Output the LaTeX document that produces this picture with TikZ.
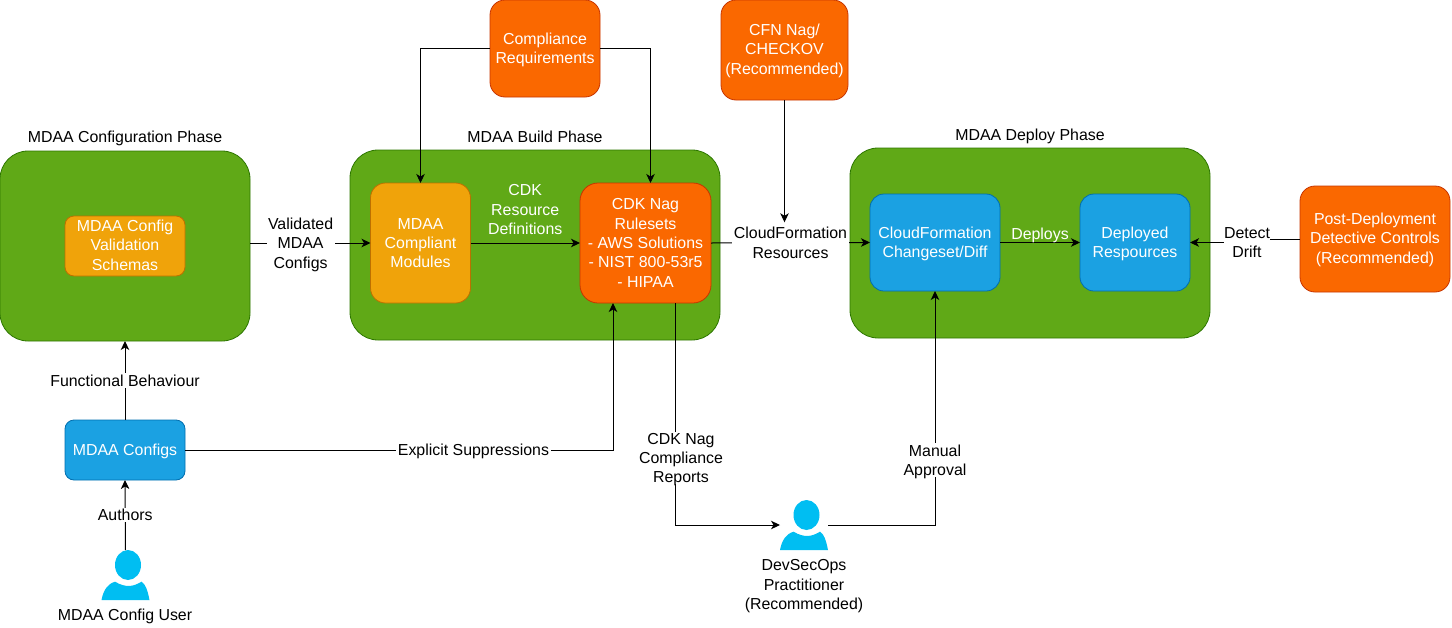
\documentclass[tikz,border=0pt]{standalone}
\usepackage{fontspec}
\usetikzlibrary{arrows.meta}
\setmainfont{Liberation Sans}
\definecolor{grnfill}{HTML}{60A917}
\definecolor{grnline}{HTML}{2D7600}
\definecolor{ambfill}{HTML}{F0A30A}
\definecolor{ambline}{HTML}{BD7000}
\definecolor{orgfill}{HTML}{FA6800}
\definecolor{orgline}{HTML}{C73500}
\definecolor{blufill}{HTML}{1BA1E2}
\definecolor{bluline}{HTML}{006EAF}
\definecolor{usrfill}{HTML}{00BEF2}
\begin{document}
\begin{tikzpicture}[x=1pt,y=-1pt,>={Stealth[length=9pt,width=8.5pt,inset=2.5pt]},font=\fontsize{15.9}{19.4}\selectfont,text depth=0pt,
        block/.style={draw,line width=.8pt,align=center,text=white,inner sep=0pt,outer sep=0pt},
        phase/.style={block,fill=grnfill,draw=grnline,rounded corners=28pt},
        amber/.style={block,fill=ambfill,draw=ambline,rounded corners=#1},
        orangebox/.style={block,fill=orgfill,draw=orgline,rounded corners=#1},
        bluebox/.style={block,fill=blufill,draw=bluline,rounded corners=#1},
        size/.style 2 args={minimum width=#1,minimum height=#2},
        title/.style={align=center,inner sep=0pt},
        link/.style={->,line width=1pt},
        tag/.style={fill=white,align=center,inner sep=1.5pt},
        person/.pic={
          \fill[usrfill] (2.5,-10) ellipse [x radius=13,y radius=15];
          \fill[usrfill] (-24,25) .. controls (-22,15) and (-18,9) .. (-10.5,6.7)
            .. controls (-5,10) and (0,11) .. (3,11) .. controls (8,11) and (12,9) .. (16,6.7)
            .. controls (20,9) and (22,15) .. (24,25) -- cycle;}]
        \useasboundingbox (0,0) rectangle (1452,627);
        \node[phase,size={250}{190}] (cfgphase) at (125,246) {};
        \node[phase,size={370}{190}] (bldphase) at (535,245) {};
        \node[phase,size={360}{190}] (dplphase) at (1030,243) {};
        \node[title] (cfgtitle) at (125,137) {MDAA Configuration Phase};
        \node[title] (bldtitle) at (535,137) {MDAA Build Phase};
        \node[title] (dpltitle) at (1030,135) {MDAA Deploy Phase};
        \node[amber=9pt,size={120}{60},text depth=2pt] (schemas) at (125,246) {MDAA Config\\Validation\\Schemas};
        \node[amber=15pt,size={100}{120}] (modules) at (420.5,243) {MDAA\\Compliant\\Modules};
        \node[orangebox=18pt,size={131}{120}] (nag) at (645.5,243) {CDK Nag\\Rulesets\\- AWS Solutions\\- NIST 800-53r5\\- HIPAA};
        \node[orangebox=15pt,size={110}{97}] (compliance) at (545,48.5) {Compliance\\Requirements};
        \node[orangebox=15pt,size={127}{100},text depth=2pt] (cfnnag) at (784.5,50) {CFN Nag/\\CHECKOV\\(Recommended)};
        \node[orangebox=15pt,size={150}{106},text depth=2pt] (detective) at (1375,239) {Post-Deployment\\Detective Controls\\(Recommended)};
        \node[bluebox=14pt,size={130}{97}] (changeset) at (935,242.5) {CloudFormation\\Changeset/Diff};
        \node[bluebox=14pt,size={110}{97}] (deployed) at (1135,242.5) {Deployed\\Respources};
        \node[bluebox=9pt,size={120}{60}] (configs) at (125,450) {MDAA Configs};
        \node[size={48}{50},inner sep=0pt,outer sep=0pt] (cfguser) at (125.5,575) {};
        \pic at (cfguser) {person};
        \node[title] (cfgusertext) at (125,615) {MDAA Config User};
        \node[size={48}{50},inner sep=0pt,outer sep=0pt] (devsec) at (804,525) {};
        \pic at (devsec) {person};
        \node[title] (devsectext) at (804,584.5) {DevSecOps\\Practitioner\\(Recommended)};
        \node[title] (drift) at (1247,242.5) {Detect\\Drift};
        \draw[link] (cfgphase.east |- modules.west) -- node[tag,pos=.42] (validated) {Validated\\MDAA\\Configs} (modules.west);
        \draw[link] (modules.east) -- node[title,text=white,above=8pt,pos=.5] (cdkdefs) {CDK\\Resource\\Definitions} (nag.west);
        \draw[link] (nag.east) -- node[tag] (cfnres) {CloudFormation\\Resources} (changeset.west);
        \draw[link] (changeset.east) -- node[title,text=white,above=3pt] (deploys) {Deploys} (deployed.west);
        \draw[line width=1pt] (detective.west) -- (drift.east |- detective.west);
        \draw[link] (drift.west) -- (deployed.east);
        \draw[link] (compliance.west) -| (modules.north);
        \draw[link] (compliance.east) -| ([xshift=5pt]nag.north);
        \draw[link] (cfnnag.south) -- ([yshift=3pt]cfnnag.south |- cfnres.north);
        \draw[link] (configs.north) -- node[tag] (behaviour) {Functional Behaviour} (cfgphase.south -| configs.north);
        \draw[link] (cfguser.north) -- node[tag] (authors) {Authors} (configs.south);
        \draw[link] (configs.east) -| node[tag,pos=.337] (suppress) {Explicit Suppressions} ([xshift=-32.5pt]nag.south);
        \draw[link] ([xshift=29.5pt]nag.south) |- node[tag,pos=.349,xshift=6pt] (reports) {CDK Nag\\Compliance\\Reports} (devsec.west);
        \draw[link] (devsec.east) -| node[tag,pos=.639] (approval) {Manual\\Approval} (changeset.south);
\end{tikzpicture}
\end{document}
